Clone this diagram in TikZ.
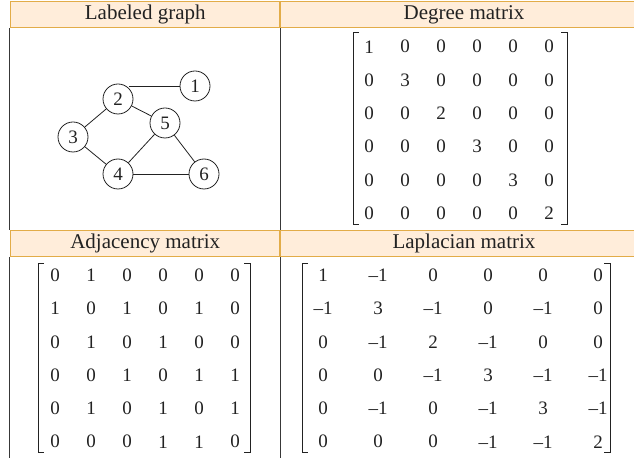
\documentclass[tikz,border=0pt]{standalone}
\usepackage{fontspec}
\setmainfont{Liberation Serif}
\usetikzlibrary{matrix, calc}

\definecolor{headfill}{HTML}{FFEDDA}
\definecolor{headline}{HTML}{E2AC48}
\definecolor{ink}{HTML}{222222}

\begin{document}
\begin{tikzpicture}[
    x=1pt, y=1pt,
    head/.style={rectangle, draw=headline, fill=headfill, line width=1.3pt, minimum height=26pt, inner sep=0pt, text=ink, font=\fontsize{21}{24}\selectfont},
    rule/.style={draw=ink!90, line width=1pt},
    vertex/.style={circle, draw=ink, line width=0.8pt, minimum size=30pt, inner sep=0pt, text=ink, font=\fontsize{19}{21}\selectfont},
    edge/.style={draw=ink, line width=0.8pt},
    mat/.style={matrix of nodes, column sep=0pt, row sep=0pt,
        nodes={minimum width=#1, minimum height=33.3pt, inner sep=0pt, anchor=center, text=ink, font=\fontsize{19}{21}\selectfont}},
    bracket/.style={draw=ink, line width=0.9pt}
]
    \useasboundingbox (0,0) rectangle (634,458);
    \clip (0,0) rectangle (634,458);
    \coordinate (bot) at (0,0);

    % header cells
    \node[head, minimum width=269.5pt] (hgraph) at (145.25,443.5) {Labeled graph};
    \node[head, minimum width=368pt] (hdeg) at (464,443.5) {Degree matrix};
    \node[head, minimum width=269.5pt] (hadj) at (145.25,214.75) {Adjacency matrix};
    \node[head, minimum width=368pt] (hlap) at (464,214.75) {Laplacian matrix};

    % table rules
    \draw[rule] (hgraph.south west) -- (hadj.north west);
    \draw[rule] (hgraph.south east) -- (hadj.north east);
    \draw[rule] (hadj.south west) -- (hadj.south west |- bot);
    \draw[rule] (hadj.south east) -- (hadj.south east |- bot);

    % labeled graph
    \node[vertex] (v1) at (195,372) {1};
    \node[vertex] (v2) at (118,359) {2};
    \node[vertex] (v3) at (73,321) {3};
    \node[vertex] (v4) at (118,284) {4};
    \node[vertex] (v5) at (165,335) {5};
    \node[vertex] (v6) at (204,284) {6};
    \draw[edge] (v1.west) -- (v1.west -| v2.north east);
    \draw[edge] (v2) -- (v5);
    \draw[edge] (v2) -- (v3);
    \draw[edge] (v3) -- (v4);
    \draw[edge] (v4) -- (v5);
    \draw[edge] (v5) -- (v6);
    \draw[edge] (v4) -- (v6);

    % degree matrix
    \matrix[mat=36pt] (deg) at (459,328) {
        1 & 0 & 0 & 0 & 0 & 0 \\
        0 & 3 & 0 & 0 & 0 & 0 \\
        0 & 0 & 2 & 0 & 0 & 0 \\
        0 & 0 & 0 & 3 & 0 & 0 \\
        0 & 0 & 0 & 0 & 3 & 0 \\
        0 & 0 & 0 & 0 & 0 & 2 \\
    };
    \draw[bracket] ($(deg-1-1)+(-10,14)$) -- ++(-6,0) |- ($(deg-6-1)+(-10,-11)$);
    \draw[bracket] ($(deg-1-6)+(12,14)$) -- ++(6,0) |- ($(deg-6-6)+(12,-11)$);

    % adjacency matrix
    \matrix[mat=36pt] (adj) at (145,99.5) {
        0 & 1 & 0 & 0 & 0 & 0 \\
        1 & 0 & 1 & 0 & 1 & 0 \\
        0 & 1 & 0 & 1 & 0 & 0 \\
        0 & 0 & 1 & 0 & 1 & 1 \\
        0 & 1 & 0 & 1 & 0 & 1 \\
        0 & 0 & 0 & 1 & 1 & 0 \\
    };
    \draw[bracket] ($(adj-1-1)+(-11,12)$) -- ++(-6,0) |- ($(adj-6-1)+(-11,-11)$);
    \draw[bracket] ($(adj-1-6)+(9,12)$) -- ++(6,0) |- ($(adj-6-6)+(9,-11)$);

    % laplacian matrix
    \matrix[mat=55pt] (lap) at (460.5,99.5) {
        1 & –1 & 0 & 0 & 0 & 0 \\
        –1 & 3 & –1 & 0 & –1 & 0 \\
        0 & –1 & 2 & –1 & 0 & 0 \\
        0 & 0 & –1 & 3 & –1 & –1 \\
        0 & –1 & 0 & –1 & 3 & –1 \\
        0 & 0 & 0 & –1 & –1 & 2 \\
    };
    \draw[bracket] ($(lap-1-1)+(-15,12)$) -- ++(-6,0) |- ($(lap-6-1)+(-15,-11)$);
    \draw[bracket] ($(lap-1-6)+(6,12)$) -- ++(6,0) |- ($(lap-6-6)+(6,-11)$);
\end{tikzpicture}
\end{document}
